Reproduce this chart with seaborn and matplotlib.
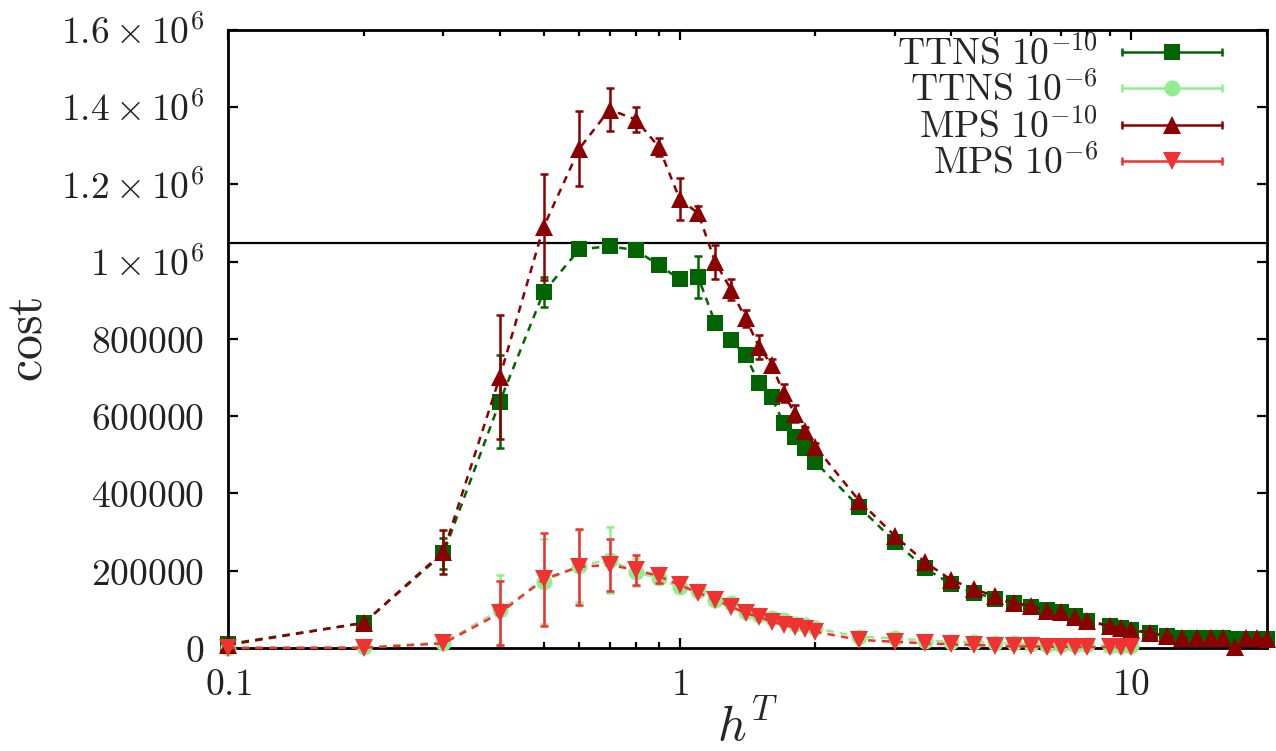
import numpy as np
import pandas as pd
import matplotlib
matplotlib.use("Agg")
import matplotlib.pyplot as plt
import seaborn as sns
from matplotlib.lines import Line2D
from matplotlib.legend_handler import HandlerBase

# field values h^T
h_long = [0.1, 0.2, 0.3, 0.4, 0.5, 0.6, 0.7, 0.8, 0.9, 1.0, 1.1, 1.2, 1.3, 1.4, 1.5,
          1.6, 1.7, 1.8, 1.9, 2.0, 2.5, 3, 3.5, 4, 4.5, 5, 5.5, 6, 6.5, 7, 7.5, 8,
          9, 9.5, 10, 11, 12, 13, 14, 15, 16, 17, 18, 19, 20]
h_short = [0.1, 0.2, 0.3, 0.4, 0.5, 0.6, 0.7, 0.8, 0.9, 1.0, 1.1, 1.2, 1.3, 1.4, 1.5,
           1.6, 1.7, 1.8, 1.9, 2.0, 2.5, 3, 3.5, 4, 4.5, 5, 5.5, 6, 6.5, 7, 7.5, 8,
           9, 9.5, 10]

cost_ttns_10 = [10000, 65000, 245000, 638000, 921000, 1032000, 1040000, 1030000, 991000,
                955000, 960000, 841000, 797000, 758000, 686000, 649000, 582000, 546000,
                517000, 481000, 365000, 275000, 206000, 165000, 143000, 128000, 116000,
                107000, 97000, 93000, 82000, 70000, 57000, 51000, 46000, 39000, 31000,
                27000, 26000, 25000, 24500, 24000, 23500, 23000, 22500]
err_ttns_10 = [0, 0, 40000, 120000, 39000, 0, 0, 0, 0, 0, 55000, 0, 0, 0, 0, 0, 0, 0,
               0, 0, 0, 0, 0, 0, 0, 0, 0, 0, 0, 0, 0, 0, 0, 0, 0, 0, 0, 0, 0, 0, 0, 0,
               0, 0, 0]

cost_ttns_6 = [1000, 2000, 14000, 98000, 172000, 213000, 228000, 197000, 180000, 157000,
               147000, 124000, 116000, 94000, 85000, 77000, 72000, 62000, 59000, 51000,
               29000, 25000, 19000, 16000, 16000, 12000, 12000, 9500, 8000, 7500, 7000,
               6500, 6000, 5500, 5000]
err_ttns_6 = [0, 0, 0, 90000, 110000, 93000, 85000, 37000, 0, 0, 0, 0, 0, 0, 0, 0, 0, 0,
              0, 0, 0, 0, 0, 0, 0, 0, 0, 0, 0, 0, 0, 0, 0, 0, 0]

cost_mps_10 = [8000, 65000, 249000, 702000, 1090000, 1293000, 1394000, 1368000, 1297000,
               1163000, 1125000, 999000, 928000, 853000, 780000, 732000, 660000, 607000,
               561000, 521000, 381000, 290000, 222000, 176000, 152000, 134000, 117000,
               109000, 96000, 94000, 80000, 70000, 56000, 52000, 47000, 40000, 31000,
               27000, 26000, 26000, 26000, 3000, 26000, 25000, 24000]
err_mps_10 = [0, 0, 57000, 160000, 138000, 97000, 55000, 33000, 24000, 55000, 18000,
              43000, 28000, 23000, 31000, 15000, 24000, 23000, 12000, 10000, 0, 0, 0, 0,
              0, 0, 0, 0, 0, 0, 0, 0, 0, 0, 0, 0, 0, 0, 0, 0, 0, 0, 0, 0, 0]

cost_mps_6 = [0, 500, 12000, 90000, 178000, 210000, 215000, 202000, 186000, 163000,
              143000, 124000, 107000, 90000, 81000, 68000, 60000, 53000, 48000, 42000,
              21000, 16000, 12000, 9500, 8000, 5500, 4000, 4000, 3500, 3000, 2500, 2500,
              2000, 2000, 2000]
err_mps_6 = [0, 0, 0, 83000, 120000, 98000, 68000, 38000, 18000, 0, 0, 0, 0, 0, 0, 0, 0,
             0, 0, 0, 0, 0, 0, 0, 0, 0, 0, 0, 0, 0, 0, 0, 0, 0, 0]

cost_limit = 2 ** 20

labels = [r"$\mathrm{TTNS}\ 10^{-10}$", r"$\mathrm{TTNS}\ 10^{-6}$",
          r"$\mathrm{MPS}\ 10^{-10}$", r"$\mathrm{MPS}\ 10^{-6}$"]
colors = ["#006400", "#90ee90", "#8b0000", "#f03232"]
markers = ["s", "o", "^", "v"]
msizes = [11, 11.5, 12.5, 12.5]

xticks = [0.1, 1, 10]
xticklabels = ["$0.1$", "$1$", "$10$"]
yticks = [0, 200000, 400000, 600000, 800000, 1000000, 1200000, 1400000, 1600000]
yticklabels = ["$0$", "$200000$", "$400000$", "$600000$", "$800000$",
               r"$1\times10^{6}$", r"$1.2\times10^{6}$", r"$1.4\times10^{6}$",
               r"$1.6\times10^{6}$"]


class ErrKeyHandler(HandlerBase):
    """gnuplot-like key: horizontal bar with caps and marker in the middle"""
    def create_artists(self, legend, orig_handle, xdescent, ydescent,
                       width, height, fontsize, trans):
        y = height / 2 - ydescent
        x0, x1 = -xdescent, width - xdescent
        col = orig_handle.get_color()
        bar = Line2D([x0, x1], [y, y], color=col, lw=1.8)
        caps = Line2D([x0, x1], [y, y], ls="none", marker="|", ms=6, mew=1.8, color=col)
        mk = Line2D([(x0 + x1) / 2], [y], ls="none", marker=orig_handle.get_marker(),
                    ms=orig_handle.get_markersize(), mew=0, color=col)
        for a in (bar, caps, mk):
            a.set_transform(trans)
        return [bar, caps, mk]


sns.set_style("ticks")
plt.rcParams["mathtext.fontset"] = "cm"
plt.rcParams["xtick.direction"] = "in"
plt.rcParams["ytick.direction"] = "in"

fig = plt.figure(figsize=(12.76, 7.51), dpi=100)
ax = fig.add_axes([0.1787, 0.1372, 0.8142, 0.8229])
ax.set_xscale("log")

ax.axhline(cost_limit, color="black", lw=1.6, zorder=1)

series = [
    (h_long, cost_ttns_10, err_ttns_10),
    (h_short, cost_ttns_6, err_ttns_6),
    (h_long, cost_mps_10, err_mps_10),
    (h_short, cost_mps_6, err_mps_6),
]

proxies = []
for i, (h, c, e) in enumerate(series):
    z = 2 + i
    df = pd.DataFrame({"h": h, "cost": c, "err": e})
    sub = df[df["err"] > 0]
    ax.errorbar(sub["h"], sub["cost"], yerr=sub["err"], fmt="none", ecolor=colors[i],
                elinewidth=1.8, capsize=3.2, capthick=1.8, zorder=z)
    sns.lineplot(data=df, x="h", y="cost", ax=ax, color=colors[i], marker=markers[i],
                 markersize=msizes[i], markeredgewidth=0, linewidth=1.8,
                 linestyle=(0, (3, 2.5)), errorbar=None, sort=False, zorder=z,
                 clip_on=False)
    proxies.append(Line2D([], [], color=colors[i], marker=markers[i], ms=msizes[i]))

ax.set_xlim(0.1, 20)
ax.set_ylim(0, 1600000)
ax.set_xticks(xticks)
ax.set_xticklabels(xticklabels)
ax.set_yticks(yticks)
ax.set_yticklabels(yticklabels)

ax.tick_params(which="both", top=True, right=True, width=1.6, colors="black")
ax.tick_params(which="major", length=7)
ax.tick_params(which="minor", length=4)
ax.tick_params(axis="x", labelsize=27, pad=14, labelcolor="#222222")
ax.tick_params(axis="y", labelsize=27, pad=17, labelcolor="#222222")
for s in ax.spines.values():
    s.set_linewidth(2)
    s.set_color("black")

ax.set_xlabel(r"$h^T$", fontsize=36)
ax.set_ylabel(r"$\mathrm{cost}$", fontsize=36)
ax.xaxis.set_label_coords(0.5, -0.085)
ax.yaxis.set_label_coords(-0.17, 0.5)

ax.legend(proxies, labels, handler_map={Line2D: ErrKeyHandler()}, loc="upper right",
          bbox_to_anchor=(0.9567, 0.99), frameon=False, fontsize=27, markerfirst=False,
          handlelength=2.67, handletextpad=0.64, labelspacing=0.0, borderpad=0,
          borderaxespad=0)

fig.savefig("out.png", dpi=100)
